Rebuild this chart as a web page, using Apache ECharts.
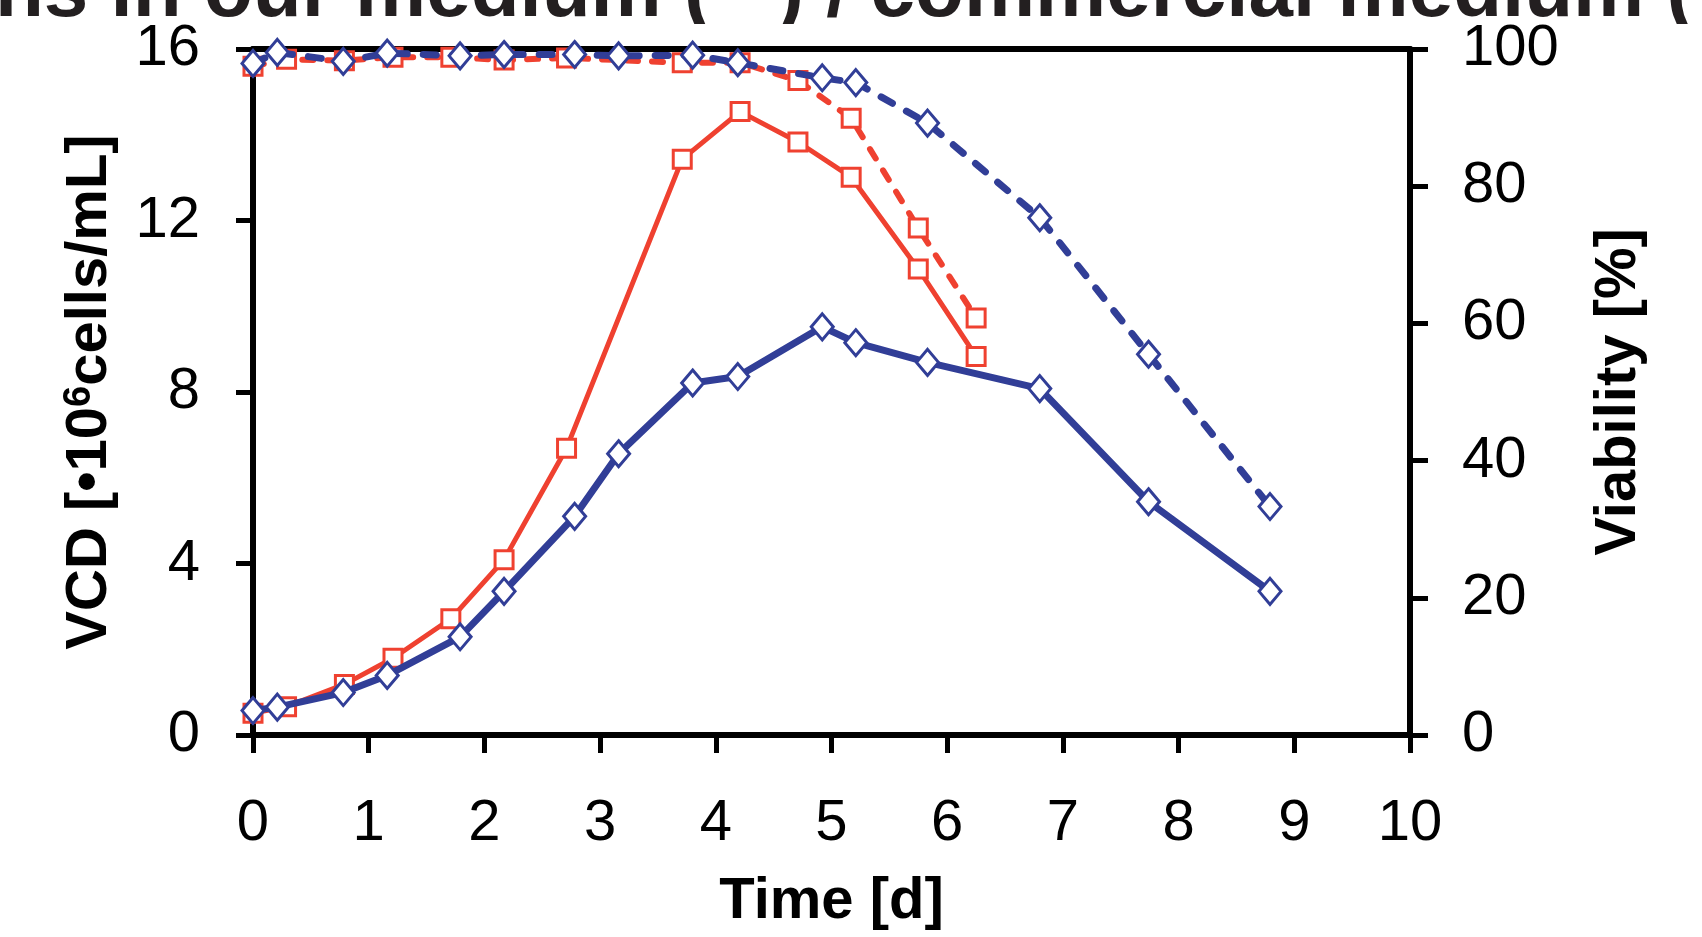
<!DOCTYPE html>
<html>
<head>
<meta charset="utf-8">
<script src="https://cdn.jsdelivr.net/npm/echarts@6/dist/echarts.min.js"></script>
<style>
html,body{margin:0;padding:0;background:#fff;}
#chart{width:1702px;height:937px;}
</style>
</head>
<body>
<div id="chart"></div>
<script>
// ---- data ----
const daysOur = [0, 0.29, 0.79, 1.21, 1.71, 2.17, 2.71, 3.71, 4.21, 4.71, 5.17, 5.75, 6.25];
const vcdOur = [0.51, 0.66, 1.18, 1.79, 2.71, 4.09, 6.69, 13.43, 14.54, 13.83, 13.01, 10.87, 8.83];
const viaOur = [97.5, 98.5, 98.3, 98.8, 98.8, 98.4, 98.7, 98.0, 98.0, 95.4, 89.9, 73.9, 60.8];

const daysCom = [0, 0.21, 0.78, 1.16, 1.79, 2.17, 2.78, 3.16, 3.80, 4.19, 4.92, 5.21, 5.83, 6.80, 7.74, 8.79];
const vcdCom = [0.57, 0.65, 0.99, 1.39, 2.29, 3.35, 5.10, 6.56, 8.21, 8.36, 9.52, 9.15, 8.69, 8.08, 5.44, 3.35];
const viaCom = [97.9, 99.5, 98.2, 99.4, 99.0, 99.2, 99.2, 99.0, 99.1, 98.0, 95.8, 95.1, 89.2, 75.4, 55.5, 33.3];

const titleText = 'ns in our medium (   ) / commercial medium (';
const xTitle = 'Time [d]';
const yLeftTitle = '{b|VCD [•10}{s|6}{b|cells/mL]}';
const yRightTitle = 'Viability [%]';

// ---- styling ----
const RED = '#EF4130';
const BLUE = '#313E97';
const FONT = "'Liberation Sans', Arial, Helvetica, sans-serif";

function pairs(xs, ys) { return xs.map((x, i) => [x, ys[i]]); }

const chart = echarts.init(document.getElementById('chart'), null, {renderer: 'canvas'});

const axisLineStyle = {color: '#000', width: 6};
const labelStyle = {color: '#000', fontSize: 58, fontFamily: FONT};
const nameStyle = {color: '#000', fontSize: 58, fontWeight: 'bold', fontFamily: FONT};

const option = {
  animation: false,
  backgroundColor: '#fff',
  grid: {left: 253, right: 292, top: 49, bottom: 202, containLabel: false, outerBoundsMode: 'none'},
  graphic: [{
    type: 'text',
    x: -5,
    y: 34,
    z: -10,
    silent: true,
    style: {
      text: titleText,
      font: "bold 80px " + FONT,
      fill: '#231F20',
      verticalAlign: 'bottom',
      align: 'left'
    }
  }, {
    // the original figure is cropped: the title is clipped just above the plot
    type: 'rect',
    z: -5,
    silent: true,
    shape: {x: 0, y: 24, width: 1702, height: 22},
    style: {fill: '#fff'}
  }],
  xAxis: [{
    type: 'value', position: 'bottom', min: 0, max: 10, interval: 1,
    axisLine: {show: true, onZero: false, lineStyle: axisLineStyle},
    axisTick: {show: true, inside: false, length: 18, lineStyle: {color: '#000', width: 5}},
    axisLabel: Object.assign({margin: 60}, labelStyle),
    splitLine: {show: false},
    name: xTitle, nameLocation: 'middle', nameGap: 138, nameTextStyle: nameStyle
  }, {
    type: 'value', position: 'top', min: 0, max: 10, interval: 1,
    axisLine: {show: true, onZero: false, lineStyle: axisLineStyle},
    axisTick: {show: false}, axisLabel: {show: false}, splitLine: {show: false}
  }],
  yAxis: [{
    type: 'value', position: 'left', min: 0, max: 16, interval: 4,
    axisLine: {show: true, onZero: false, lineStyle: axisLineStyle},
    axisTick: {show: true, inside: false, length: 17, lineStyle: {color: '#000', width: 5}},
    axisLabel: Object.assign({margin: 53}, labelStyle),
    splitLine: {show: false},
    name: yLeftTitle, nameLocation: 'middle', nameGap: 134,
    nameTextStyle: Object.assign({}, nameStyle, {
      rich: {
        b: {fontSize: 58, fontWeight: 'bold', fontFamily: FONT, color: '#000', lineHeight: 58},
        s: {fontSize: 38, fontWeight: 'bold', fontFamily: FONT, color: '#000', lineHeight: 40, verticalAlign: 'top'}
      }
    })
  }, {
    type: 'value', position: 'right', min: 0, max: 100, interval: 20,
    axisLine: {show: true, onZero: false, lineStyle: axisLineStyle},
    axisTick: {show: true, inside: false, length: 18, lineStyle: {color: '#000', width: 5}},
    axisLabel: Object.assign({margin: 52}, labelStyle),
    splitLine: {show: false},
    name: yRightTitle, nameLocation: 'middle', nameGap: 180, nameTextStyle: nameStyle
  }],
  series: [
    {
      name: 'VCD our medium', type: 'line', xAxisIndex: 0, yAxisIndex: 0,
      data: pairs(daysOur, vcdOur),
      symbol: 'rect', symbolSize: 18, showAllSymbol: true,
      lineStyle: {color: RED, width: 5},
      itemStyle: {color: '#fff', borderColor: RED, borderWidth: 3},
      z: 2
    },
    {
      name: 'Viability our medium', type: 'line', xAxisIndex: 0, yAxisIndex: 1,
      data: pairs(daysOur, viaOur),
      symbol: 'rect', symbolSize: 18, showAllSymbol: true,
      lineStyle: {color: RED, width: 6, type: [11, 14], cap: 'round'},
      itemStyle: {color: '#fff', borderColor: RED, borderWidth: 3},
      z: 2
    },
    {
      name: 'VCD commercial medium', type: 'line', xAxisIndex: 0, yAxisIndex: 0,
      data: pairs(daysCom, vcdCom),
      symbol: 'diamond', symbolSize: [22, 26], showAllSymbol: true,
      lineStyle: {color: BLUE, width: 7},
      itemStyle: {color: '#fff', borderColor: BLUE, borderWidth: 3},
      z: 3
    },
    {
      name: 'Viability commercial medium', type: 'line', xAxisIndex: 0, yAxisIndex: 1,
      data: pairs(daysCom, viaCom),
      symbol: 'diamond', symbolSize: [22, 26], showAllSymbol: true,
      lineStyle: {color: BLUE, width: 7, type: [13, 16], cap: 'round'},
      itemStyle: {color: '#fff', borderColor: BLUE, borderWidth: 3},
      z: 3
    }
  ]
};
chart.setOption(option);
</script>
</body>
</html>
